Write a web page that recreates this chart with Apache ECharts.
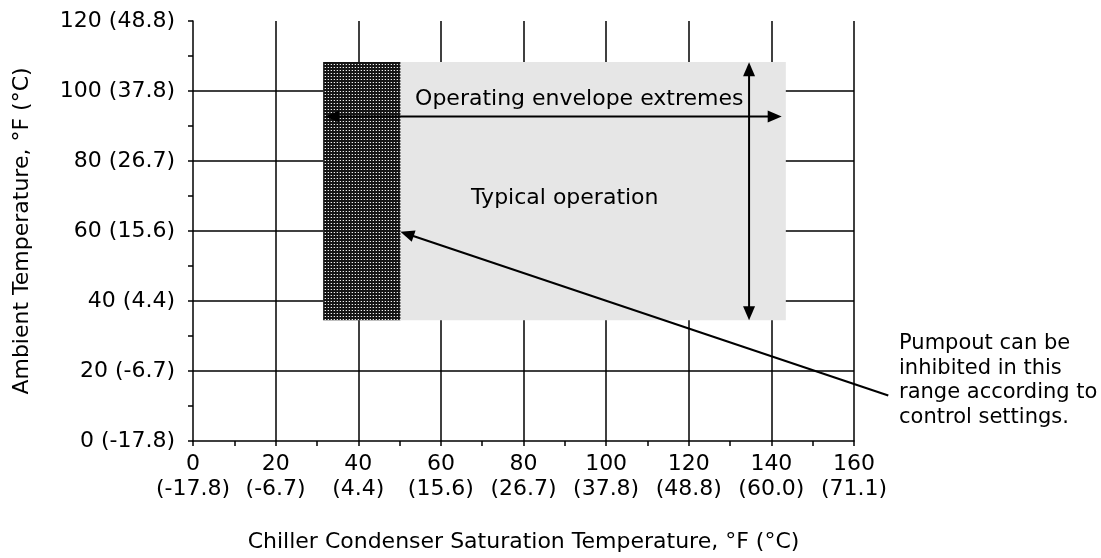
<!DOCTYPE html>
<html>
<head>
<meta charset="utf-8">
<script src="https://cdn.jsdelivr.net/npm/echarts@6/dist/echarts.min.js"></script>
<style>
  html, body { margin: 0; padding: 0; background: #fff; overflow: hidden; }
  #chart { width: 1101px; height: 558px; }
</style>
</head>
<body>
<div id="chart"></div>
<script>
// Axis ticks in °F with the matching °C shown underneath / beside
const xTicksF = [0, 20, 40, 60, 80, 100, 120, 140, 160];
const xTicksC = ['-17.8', '-6.7', '4.4', '15.6', '26.7', '37.8', '48.8', '60.0', '71.1'];
const yTicksF = [0, 20, 40, 60, 80, 100, 120];
const yTicksC = ['-17.8', '-6.7', '4.4', '15.6', '26.7', '37.8', '48.8'];

// Regions: [xMin, yMin, xMax, yMax] in °F
const envelopeBox = [31.5, 34.5, 143.5, 108.3];
const pumpoutBox = [31.5, 34.5, 50.2, 108.3];

// Arrows: [x1, y1, x2, y2, headAtStart(1/0), headAtEnd(1/0)] in °F
const arrows = [
  [32, 92.7, 142.5, 92.7, 1, 1],      // condenser range
  [134.6, 34.5, 134.6, 108.2, 1, 1],  // ambient range
  [168.3, 13, 50.2, 59.8, 0, 1]       // pointer to pumpout band
];

// Text annotations: [x, y, text]
const notes = [
  [93.5, 97.5, 'Operating envelope extremes'],
  [90, 69.3, 'Typical operation']
];
const sideNote = [170.9, 17.3, 'Pumpout can be\ninhibited in this\nrange according to\ncontrol settings.'];

const FONT = '"DejaVu Sans", Verdana, sans-serif';
const FS = 22;
const FS_NOTE = 21;

// Dense dotted fill for the pumpout band
function dotPattern() {
  const c = document.createElement('canvas');
  c.width = 3; c.height = 3;
  const g = c.getContext('2d');
  g.fillStyle = '#151515';
  g.fillRect(0, 0, 3, 3);
  g.fillStyle = '#f0f0f0';
  g.fillRect(1, 1, 1, 1);
  g.fillStyle = '#555';
  g.fillRect(0, 1, 1, 1);
  return c;
}

const chart = echarts.init(document.getElementById('chart'), null, { renderer: 'canvas' });

function rectItem(fill) {
  return function (params, api) {
    const p0 = api.coord([api.value(0), api.value(3)]);
    const p1 = api.coord([api.value(2), api.value(1)]);
    return {
      type: 'rect',
      shape: { x: p0[0], y: p0[1], width: p1[0] - p0[0], height: p1[1] - p0[1] },
      style: { fill: fill }
    };
  };
}

function textItem(align, size, lineHeight) {
  return function (params, api) {
    const p = api.coord([api.value(0), api.value(1)]);
    return {
      type: 'text',
      x: p[0], y: p[1],
      style: {
        text: api.value(2),
        font: size + 'px ' + FONT,
        fill: '#000',
        align: align,
        verticalAlign: 'middle',
        lineHeight: lineHeight
      }
    };
  };
}

// Line with filled triangular heads whose tips sit exactly on the end points
const HEAD_LEN = 14, HEAD_HALF = 6;
function arrowItem(params, api) {
  const a = api.coord([api.value(0), api.value(1)]);
  const b = api.coord([api.value(2), api.value(3)]);
  const dx = b[0] - a[0], dy = b[1] - a[1];
  const len = Math.sqrt(dx * dx + dy * dy);
  const ux = dx / len, uy = dy / len;
  const nx = -uy, ny = ux;
  const startHead = api.value(4) === 1, endHead = api.value(5) === 1;
  const s = startHead ? [a[0] + ux * (HEAD_LEN - 2), a[1] + uy * (HEAD_LEN - 2)] : a;
  const e = endHead ? [b[0] - ux * (HEAD_LEN - 2), b[1] - uy * (HEAD_LEN - 2)] : b;
  const children = [{
    type: 'line',
    shape: { x1: s[0], y1: s[1], x2: e[0], y2: e[1] },
    style: { stroke: '#000', lineWidth: 2 }
  }];
  function head(tip, dirx, diry) {
    const bx = tip[0] - dirx * HEAD_LEN, by = tip[1] - diry * HEAD_LEN;
    return {
      type: 'polygon',
      shape: { points: [tip, [bx + nx * HEAD_HALF, by + ny * HEAD_HALF], [bx - nx * HEAD_HALF, by - ny * HEAD_HALF]] },
      style: { fill: '#000' }
    };
  }
  if (startHead) children.push(head(a, -ux, -uy));
  if (endHead) children.push(head(b, ux, uy));
  return { type: 'group', children: children };
}

chart.setOption({
  animation: false,
  backgroundColor: '#fff',
  grid: { left: 193, right: 247, top: 21, bottom: 111 },
  xAxis: {
    type: 'value',
    min: 0, max: 160, interval: 20,
    name: 'Chiller Condenser Saturation Temperature, °F (°C)',
    nameLocation: 'middle',
    nameGap: 90,
    nameTextStyle: { fontFamily: FONT, fontSize: FS, color: '#000', verticalAlign: 'top' },
    axisLine: { show: true, onZero: false, lineStyle: { color: '#000', width: 1.5 } },
    axisTick: { show: true, length: 5, lineStyle: { color: '#000', width: 1.5 } },
    minorTick: { show: true, splitNumber: 2, length: 5, lineStyle: { color: '#000', width: 1.5 } },
    splitLine: { show: true, showMinLine: false, lineStyle: { color: '#000', width: 1.5 } },
    axisLabel: {
      margin: 11,
      fontFamily: FONT, fontSize: FS, color: '#000', lineHeight: 25,
      formatter: function (v) {
        const i = xTicksF.indexOf(v);
        return i < 0 ? '' : xTicksF[i] + '\n(' + xTicksC[i] + ')';
      }
    }
  },
  yAxis: {
    type: 'value',
    min: 0, max: 120, interval: 20,
    name: 'Ambient Temperature, °F (°C)',
    nameLocation: 'middle',
    nameGap: 160,
    nameRotate: 90,
    nameTextStyle: { fontFamily: FONT, fontSize: FS, color: '#000' },
    axisLine: { show: true, onZero: false, lineStyle: { color: '#000', width: 1.5 } },
    axisTick: { show: true, length: 5, lineStyle: { color: '#000', width: 1.5 } },
    minorTick: { show: true, splitNumber: 2, length: 5, lineStyle: { color: '#000', width: 1.5 } },
    splitLine: { show: true, showMinLine: false, showMaxLine: false, lineStyle: { color: '#000', width: 1.5 } },
    axisLabel: {
      margin: 18,
      fontFamily: FONT, fontSize: FS, color: '#000',
      formatter: function (v) {
        const i = yTicksF.indexOf(v);
        return i < 0 ? '' : yTicksF[i] + ' (' + yTicksC[i] + ')';
      }
    }
  },
  series: [
    {
      type: 'custom',
      renderItem: rectItem('#e6e6e6'),
      data: [envelopeBox],
      encode: { x: [0, 2], y: [1, 3] },
      silent: true,
      z: 2
    },
    {
      type: 'custom',
      renderItem: rectItem({ image: dotPattern(), repeat: 'repeat' }),
      data: [pumpoutBox],
      encode: { x: [0, 2], y: [1, 3] },
      silent: true,
      z: 3
    },
    {
      type: 'custom',
      renderItem: arrowItem,
      data: arrows,
      encode: { x: [0, 2], y: [1, 3] },
      clip: false,
      silent: true,
      z: 5
    },
    {
      type: 'custom',
      renderItem: textItem('center', FS, FS),
      data: notes,
      encode: { x: 0, y: 1 },
      silent: true,
      z: 6
    },
    {
      type: 'custom',
      renderItem: textItem('left', FS_NOTE, 24.5),
      data: [sideNote],
      encode: { x: 0, y: 1 },
      clip: false,
      silent: true,
      z: 6
    }
  ]
});
</script>
</body>
</html>
